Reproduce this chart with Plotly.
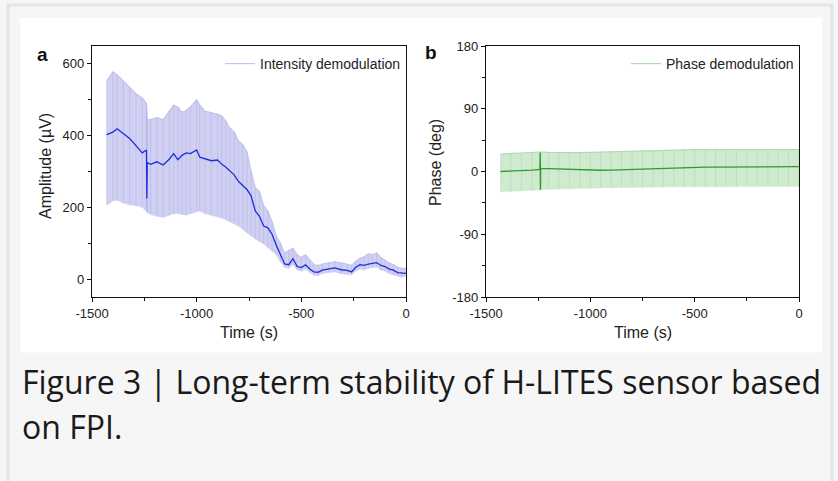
import plotly.graph_objects as go

W, H = 838, 481

# ---------------- Panel a: intensity demodulation ----------------
time_a = [-1430, -1400, -1380, -1350, -1320, -1290, -1260, -1240, -1238, -1236, -1220, -1190,
          -1160, -1130, -1110, -1090, -1070, -1050, -1030, -1000, -985, -960, -930, -900,
          -880, -860, -840, -820, -800, -780, -760, -740, -720, -700, -680, -660, -640,
          -620, -600, -580, -560, -540, -520, -500, -480, -460, -440, -420, -400, -370,
          -340, -310, -280, -260, -240, -220, -200, -180, -160, -140, -120, -100, -80,
          -60, -40, -20, 0]
amp_mean = [403, 410, 419, 405, 392, 372, 352, 360, 225, 325, 320, 327,
            318, 335, 350, 333, 345, 352, 350, 360, 340, 335, 330, 332,
            320, 312, 300, 290, 272, 262, 250, 232, 190, 175, 148, 143, 125,
            95, 70, 42, 40, 57, 35, 32, 40, 28, 20, 19, 25, 28,
            31, 26, 24, 20, 33, 40, 38, 42, 45, 46, 38, 35, 28,
            25, 18, 16, 16]
amp_upper = [553, 578, 570, 553, 535, 517, 505, 490, 470, 445, 445, 450,
             445, 470, 485, 480, 465, 470, 480, 500, 485, 468, 465, 460,
             455, 440, 420, 410, 385, 375, 355, 300, 255, 245, 205, 190, 160,
             120, 100, 72, 80, 85, 68, 60, 68, 55, 40, 38, 42, 45,
             48, 45, 40, 38, 50, 58, 62, 70, 68, 73, 60, 52, 45,
             40, 33, 30, 30]
amp_lower = [206, 218, 220, 212, 207, 205, 200, 190, 188, 185, 180, 175,
             172, 178, 182, 183, 180, 178, 182, 188, 190, 182, 178, 174,
             170, 165, 160, 155, 148, 138, 128, 120, 112, 105, 98, 88, 78,
             68, 48, 32, 30, 40, 25, 22, 28, 18, 10, 10, 15, 18,
             20, 15, 14, 12, 22, 28, 25, 30, 32, 33, 25, 22, 15,
             12, 8, 5, 8]

# ---------------- Panel b: phase demodulation ----------------
time_b = [-1430, -1380, -1330, -1280, -1242, -1240, -1239, -1238, -1200, -1150, -1100,
          -1050, -1000, -950, -900, -850, -800, -750, -700, -650, -600, -550, -500,
          -450, -400, -350, -300, -250, -200, -150, -100, -50, 0]
phase_mean = [0, 0.5, 1, 2, 3, 27, -26, 4, 4, 3.5, 3,
              2, 1.5, 1.8, 2, 2.5, 3, 4, 4.5, 5, 5.5, 6, 6,
              6.2, 6.3, 6.4, 6.5, 6.5, 6.6, 6.7, 6.8, 6.9, 7]
phase_upper = [25, 26, 26.5, 27, 28, 28, 28, 28, 27.5, 27, 27,
               27, 27.5, 28, 28.5, 29, 29.5, 30, 30, 30.5, 31, 31, 31.5,
               31.5, 31.5, 31.5, 31.5, 31.5, 31.5, 31.5, 31.5, 31.5, 31.5]
phase_lower = [-29, -28.5, -28, -27, -26.5, -26.5, -26.5, -26.5, -25.5, -25, -24.5,
               -24, -24, -23.5, -23.5, -23, -23, -22.5, -22.5, -22, -22, -22, -22,
               -22, -22, -22, -22, -22, -21.5, -21.5, -21.5, -21.5, -21.5]

x_ticks = [-1500, -1000, -500, 0]
x_ticktext = ["-1500", "-1000", "-500", "0"]
y_ticks_a = [0, 200, 400, 600]
y_ticktext_a = ["0", "200", "400", "600"]
y_ticks_b = [-180, -90, 0, 90, 180]
y_ticktext_b = ["-180", "-90", "0", "90", "180"]

BLUE = "#1c2ddb"
BAND_A = "#d0d0f2"
BAR_A = "rgba(160,160,228,0.32)"
LEG_A = "#c4c4ee"
GREEN = "#2f9a2f"
BAND_B = "#d0ead0"
BAR_B = "rgba(150,205,150,0.35)"
LEG_B = "#b3dbb3"

FONT = "Arial, Liberation Sans, sans-serif"

fig = go.Figure()

def add_panel(t, m, up, lo, xa, ya, band, bar, line, leg, name, legend):
    fig.add_trace(go.Scatter(x=t, y=up, mode="lines", line=dict(color=leg, width=1.2),
                             name=name, showlegend=True, legend=legend,
                             xaxis=xa, yaxis=ya, hoverinfo="skip"))
    fig.add_trace(go.Scatter(x=t, y=lo, mode="lines", line=dict(color=band, width=0.5),
                             fill="tonexty", fillcolor=band, showlegend=False,
                             xaxis=xa, yaxis=ya, hoverinfo="skip"))
    fig.add_trace(go.Scatter(x=t, y=m, mode="markers", marker=dict(size=1, opacity=0),
                             error_y=dict(type="data", symmetric=False,
                                          array=[u - v for u, v in zip(up, m)],
                                          arrayminus=[v - l for v, l in zip(m, lo)],
                                          color=bar, thickness=1, width=0),
                             showlegend=False, xaxis=xa, yaxis=ya, hoverinfo="skip"))
    fig.add_trace(go.Scatter(x=t, y=m, mode="lines", line=dict(color=line, width=1.3),
                             showlegend=False, xaxis=xa, yaxis=ya))

add_panel(time_a, amp_mean, amp_upper, amp_lower, "x", "y", BAND_A, BAR_A, BLUE, LEG_A,
          "Intensity demodulation", "legend")
add_panel(time_b, phase_mean, phase_upper, phase_lower, "x2", "y2", BAND_B, BAR_B, GREEN, LEG_B,
          "Phase demodulation", "legend2")

def px(x):
    return x / W

def py(y):
    return 1 - y / H

ax_common = dict(showline=True, linecolor="#111", linewidth=1.2, mirror=True,
                 ticks="outside", ticklen=4, tickwidth=1, tickcolor="#111",
                 showgrid=False, zeroline=False, automargin=False,
                 tickfont=dict(family=FONT, size=13, color="#222"))

fig.update_layout(
    template="none",
    width=W, height=H, autosize=False,
    margin=dict(l=0, r=0, t=0, b=0, pad=0),
    paper_bgcolor="#f6f6f6",
    plot_bgcolor="white",
    xaxis=dict(domain=[px(92), px(406)], range=[-1500, 0], tickvals=x_ticks, ticktext=x_ticktext,
               minor=dict(dtick=250, ticks="outside", ticklen=3, tickcolor="#111"),
               anchor="y", **ax_common),
    yaxis=dict(domain=[py(297), py(46)], range=[-50, 650], tickvals=y_ticks_a, ticktext=y_ticktext_a,
               minor=dict(dtick=100, ticks="outside", ticklen=3, tickcolor="#111"),
               anchor="x", **ax_common),
    xaxis2=dict(domain=[px(486), px(799)], range=[-1500, 0], tickvals=x_ticks, ticktext=x_ticktext,
                minor=dict(dtick=250, ticks="outside", ticklen=3, tickcolor="#111"),
                anchor="y2", **ax_common),
    yaxis2=dict(domain=[py(297), py(46)], range=[-180, 180], tickvals=y_ticks_b, ticktext=y_ticktext_b,
                minor=dict(dtick=45, ticks="outside", ticklen=3, tickcolor="#111"),
                anchor="x2", **ax_common),
    legend=dict(x=px(406), y=py(48), xanchor="right", yanchor="top",
                bgcolor="rgba(0,0,0,0)", font=dict(family=FONT, size=14, color="#222"),
                itemwidth=30, tracegroupgap=0),
    legend2=dict(x=px(799), y=py(48), xanchor="right", yanchor="top",
                 bgcolor="rgba(0,0,0,0)", font=dict(family=FONT, size=14, color="#222"),
                 itemwidth=30, tracegroupgap=0),
    shapes=[
        dict(type="rect", xref="paper", yref="paper", x0=px(8), x1=px(832), y0=py(500), y1=py(5),
             line=dict(color="#e4e4e4", width=3), fillcolor="#f6f6f6", layer="below"),
        dict(type="rect", xref="paper", yref="paper", x0=px(20.5), x1=px(822), y0=py(352.5), y1=py(18),
             line=dict(width=0), fillcolor="white", layer="below"),
    ],
    annotations=[
        dict(text="<b>a</b>", x=px(42), y=py(54), xref="paper", yref="paper", showarrow=False,
             font=dict(family=FONT, size=19, color="#111"), xanchor="center", yanchor="middle"),
        dict(text="<b>b</b>", x=px(431), y=py(53), xref="paper", yref="paper", showarrow=False,
             font=dict(family=FONT, size=19, color="#111"), xanchor="center", yanchor="middle"),
        dict(text="Time (s)", x=px(249), y=py(332), xref="paper", yref="paper", showarrow=False,
             font=dict(family=FONT, size=16, color="#222"), xanchor="center", yanchor="middle"),
        dict(text="Time (s)", x=px(642.5), y=py(332), xref="paper", yref="paper", showarrow=False,
             font=dict(family=FONT, size=16, color="#222"), xanchor="center", yanchor="middle"),
        dict(text="Amplitude (µV)", x=px(45), y=py(166), xref="paper", yref="paper", showarrow=False,
             textangle=-90, font=dict(family=FONT, size=16, color="#222"),
             xanchor="center", yanchor="middle"),
        dict(text="Phase (deg)", x=px(435), y=py(162), xref="paper", yref="paper", showarrow=False,
             textangle=-90, font=dict(family=FONT, size=16, color="#222"),
             xanchor="center", yanchor="middle"),
        dict(text="Figure 3 | Long-term stability of H-LITES sensor based", x=px(20), y=py(381),
             xref="paper", yref="paper", showarrow=False,
             font=dict(family="Open Sans", size=32, color="#1a1a1a"), xanchor="left", yanchor="middle"),
        dict(text="on FPI.", x=px(20), y=py(426),
             xref="paper", yref="paper", showarrow=False,
             font=dict(family="Open Sans", size=32, color="#1a1a1a"), xanchor="left", yanchor="middle"),
    ],
)

fig.write_html("out.html", config={"displayModeBar": False},
               post_script="document.body.style.margin='0';document.body.style.background='#f6f6f6';")
